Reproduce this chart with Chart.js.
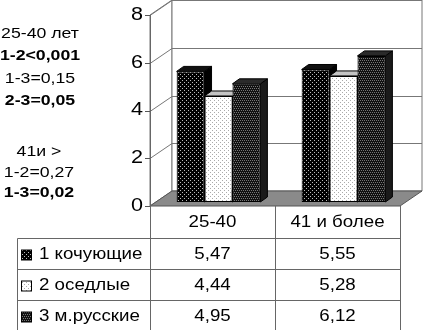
<!DOCTYPE html>
<html>
<head>
<meta charset="utf-8">
<script src="https://cdn.jsdelivr.net/npm/chart.js@4"></script>
<style>
  body { margin: 0; background: #fff; }
  canvas { display: block; }
</style>
</head>
<body>
<canvas id="chart" width="423" height="330"></canvas>
<script>
// data
const categories = ['25-40', '41 и более'];
const seriesNames = ['1 кочующие', '2 оседлые', '3 м.русские'];
const nomadic = [5.47, 5.55];
const settled = [4.44, 5.28];
const russian = [4.95, 6.12];
const yTicks = [0, 2, 4, 6, 8];
const notesYoung = ['25-40 лет', '1-2<0,001', '1-3=0,15', '2-3=0,05'];
const notesYoungBold = [false, true, false, true];
const notesOld = ['41и >', '1-2=0,27', '1-3=0,02'];
const notesOldBold = [false, false, true];

const FONT = '"Liberation Sans", Arial, sans-serif';
const WALL_DEPTH = { x: 22, y: -15 };
const BAR_DEPTH = { x: 7, y: -5 };
const BAR_SHIFT = { x: 6, y: -4 };

const canvas = document.getElementById('chart');
const ctx0 = canvas.getContext('2d');

function makePattern(bg, dot, dots) {
  const c = document.createElement('canvas');
  c.width = 4; c.height = 4;
  const g = c.getContext('2d');
  g.fillStyle = bg;
  g.fillRect(0, 0, 4, 4);
  g.fillStyle = dot;
  dots.forEach(([a, b]) => g.fillRect(a, b, 1, 1));
  return ctx0.createPattern(c, 'repeat');
}

const pat1 = makePattern('#000', '#bbb', [[0, 0], [2, 2]]);
const pat2 = makePattern('#fff', '#aaa', [[0, 0], [2, 2]]);
const pat3 = makePattern('#111', '#777', [[0, 0], [2, 0], [1, 2], [3, 2]]);

function poly(ctx, pts, fill, stroke) {
  ctx.beginPath();
  ctx.moveTo(pts[0][0], pts[0][1]);
  for (let i = 1; i < pts.length; i++) ctx.lineTo(pts[i][0], pts[i][1]);
  ctx.closePath();
  if (fill) { ctx.fillStyle = fill; ctx.fill(); }
  if (stroke) { ctx.strokeStyle = stroke; ctx.lineWidth = 1; ctx.stroke(); }
}

function line(ctx, x1, y1, x2, y2, color) {
  ctx.beginPath();
  ctx.moveTo(x1, y1);
  ctx.lineTo(x2, y2);
  ctx.strokeStyle = color;
  ctx.lineWidth = 1;
  ctx.stroke();
}

function stretchText(ctx, text, x, y, align, font, sx) {
  ctx.save();
  ctx.translate(x, y);
  ctx.scale(sx, 1);
  ctx.font = font;
  ctx.fillStyle = '#000';
  ctx.textAlign = align;
  ctx.textBaseline = 'middle';
  ctx.fillText(text, 0, 0);
  ctx.restore();
}

const scene3d = {
  id: 'scene3d',
  beforeDatasetsDraw(chart) {
    const { ctx, chartArea: a, scales: { y } } = chart;
    const dx = WALL_DEPTH.x, dy = WALL_DEPTH.y;
    ctx.save();
    // side wall and back wall
    poly(ctx, [[a.left, a.bottom], [a.left, a.top], [a.left + dx, a.top + dy], [a.left + dx, a.bottom + dy]], '#fff', '#777');
    poly(ctx, [[a.left + dx, a.bottom + dy], [a.left + dx, a.top + dy], [a.right + dx, a.top + dy], [a.right + dx, a.bottom + dy]], '#fff', '#777');
    // gridlines + tick marks
    yTicks.forEach(v => {
      const py = Math.round(y.getPixelForValue(v)) + 0.5;
      line(ctx, a.left - 5, py, a.left, py, '#555');
      if (v > 0) {
        line(ctx, a.left, py, a.left + dx, py + dy, '#777');
        line(ctx, a.left + dx, py + dy, a.right + dx, py + dy, '#777');
      }
    });
    // floor
    poly(ctx, [[a.left, a.bottom], [a.right, a.bottom], [a.right + dx, a.bottom + dy], [a.left + dx, a.bottom + dy]], '#8a8a8a', '#555');
    line(ctx, a.left + 0.5, a.top, a.left + 0.5, a.bottom, '#666');
    ctx.restore();

    // bars: top and side faces, front faces come from Chart.js
    ctx.save();
    ctx.translate(BAR_SHIFT.x, BAR_SHIFT.y);
    const bx = BAR_DEPTH.x, by = BAR_DEPTH.y;
    chart.data.datasets.forEach((ds, i) => {
      chart.getDatasetMeta(i).data.forEach(bar => {
        const { x, y: top, base, width } = bar.getProps(['x', 'y', 'base', 'width'], true);
        const l = x - width / 2, r = x + width / 2;
        poly(ctx, [[r, top], [r + bx, top + by], [r + bx, base + by], [r, base]], ds.sideColor, '#000');
        poly(ctx, [[l, top], [r, top], [r + bx, top + by], [l + bx, top + by]], ds.topColor, '#000');
      });
    });
  },
  afterDatasetsDraw(chart) {
    chart.ctx.restore();
  },
  afterDraw(chart) {
    const { ctx, chartArea: a, scales: { x, y } } = chart;

    // y tick labels
    yTicks.forEach(v => {
      stretchText(ctx, String(v), a.left - 7, y.getPixelForValue(v), 'right', '18px ' + FONT, 1.2);
    });

    // notes on the left
    notesYoung.forEach((t, i) => {
      stretchText(ctx, t, 40, 34 + i * 22.3, 'center', (notesYoungBold[i] ? 'bold ' : '') + '15px ' + FONT, 1.18);
    });
    notesOld.forEach((t, i) => {
      stretchText(ctx, t, 39, 152 + i * 20.5, 'center', (notesOldBold[i] ? 'bold ' : '') + '15px ' + FONT, 1.18);
    });

    // data table
    const mid = Math.round((x.getPixelForValue(0) + x.getPixelForValue(1)) / 2) + 0.5;
    const left = 17.5, right = a.right + 0.5, col = a.left + 0.5;
    const headTop = a.bottom, headBottom = 238.5, rowH = 31;
    const lc = '#666';
    categories.forEach((c, j) => {
      stretchText(ctx, c, x.getPixelForValue(j), (headTop + headBottom) / 2, 'center', '16px ' + FONT, 1.17);
    });
    const series = [nomadic, settled, russian];
    const swatches = [pat1, pat2, pat3];
    series.forEach((vals, i) => {
      const top = headBottom + i * rowH;
      line(ctx, left, top, right, top, lc);
      const cy = top + 16.5;
      ctx.fillStyle = swatches[i];
      ctx.fillRect(21.5, cy - 5, 10, 10);
      ctx.strokeStyle = '#000';
      ctx.strokeRect(21.5, cy - 5, 10, 10);
      stretchText(ctx, seriesNames[i], 39, cy, 'left', '16px ' + FONT, 1.17);
      vals.forEach((v, j) => {
        stretchText(ctx, v.toFixed(2).replace('.', ','), x.getPixelForValue(j), cy, 'center', '16px ' + FONT, 1.17);
      });
    });
    line(ctx, left, headBottom + 3 * rowH, right, headBottom + 3 * rowH, lc);
    line(ctx, left, headBottom, left, 330, lc);
    line(ctx, col, headTop, col, 330, lc);
    line(ctx, mid, headTop, mid, 330, lc);
    line(ctx, right, headTop, right, 330, lc);
  }
};

new Chart(canvas, {
  type: 'bar',
  data: {
    labels: categories,
    datasets: [
      { label: seriesNames[0], data: nomadic, backgroundColor: pat1, topColor: '#111', sideColor: '#000' },
      { label: seriesNames[1], data: settled, backgroundColor: pat2, topColor: '#c4c4c4', sideColor: '#8a8a8a' },
      { label: seriesNames[2], data: russian, backgroundColor: pat3, topColor: '#2a2a2a', sideColor: '#1a1a1a' }
    ]
  },
  options: {
    responsive: false,
    animation: false,
    devicePixelRatio: 1,
    layout: { padding: { left: 150, right: 23, top: 15, bottom: 124 } },
    datasets: {
      bar: {
        categoryPercentage: 0.67,
        barPercentage: 1,
        borderColor: '#000',
        borderWidth: 1,
        borderSkipped: false,
        clip: false
      }
    },
    plugins: { legend: { display: false }, tooltip: { enabled: false } },
    scales: {
      x: { display: false },
      y: { display: false, min: 0, max: 8, ticks: { stepSize: 2 } }
    }
  },
  plugins: [scene3d]
});
</script>
</body>
</html>
